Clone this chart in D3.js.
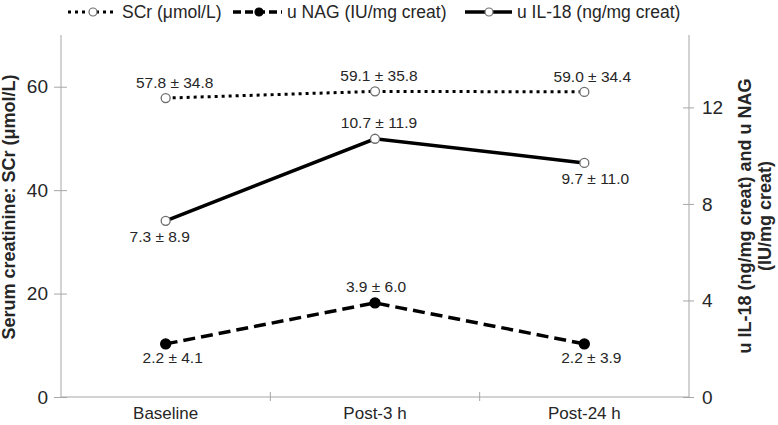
<!DOCTYPE html>
<html><head><meta charset="utf-8">
<script src="https://cdn.jsdelivr.net/npm/d3@7"></script>
<style>
html,body{margin:0;padding:0;background:#fff;}
svg{display:block;font-family:"Liberation Sans",Arial,sans-serif;}
</style></head>
<body>
<svg id="chart" width="778" height="425"></svg>
<script>
const categories = ["Baseline", "Post-3 h", "Post-24 h"];
const scrValues = [57.8, 59.1, 59.0];
const scrSD = [34.8, 35.8, 34.4];
const il18Values = [7.3, 10.7, 9.7];
const il18SD = [8.9, 11.9, 11.0];
const nagValues = [2.2, 3.9, 2.2];
const nagSD = [4.1, 6.0, 3.9];
const leftTicks = [0, 20, 40, 60];
const rightTicks = [0, 4, 8, 12];
const seriesNames = ["SCr (\u03bcmol/L)", "u NAG (IU/mg creat)", "u IL-18 (ng/mg creat)"];

// layout
const W = 778, H = 425;
const m = {left: 61, right: 89, top: 35, bottom: 28};
const iw = W - m.left - m.right, ih = H - m.top - m.bottom;
const svg = d3.select("#chart");
const g = svg.append("g").attr("transform", `translate(${m.left},${m.top})`);

const x = d3.scaleBand().domain(categories).range([0, iw]);
const yL = d3.scaleLinear().domain([0, 70]).range([ih, 0]);
const yR = d3.scaleLinear().domain([0, 15]).range([ih, 0]);
const cx = c => x(c) + x.bandwidth() / 2;

const axisColor = "#a6a6a6";
const textColor = "#262626";

// left axis
const la = g.append("g").call(d3.axisLeft(yL).tickValues(leftTicks).tickSize(0).tickPadding(13));
la.select(".domain").attr("stroke", axisColor).attr("d", `M0,0V${ih}`);
la.selectAll(".tick line").attr("stroke", axisColor).attr("x1", -7).attr("x2", 6);
la.selectAll(".tick text").attr("font-size", 19).attr("fill", textColor).attr("font-family", "Liberation Sans, Arial");

// right axis
const ra = g.append("g").attr("transform", `translate(${iw},0)`)
  .call(d3.axisRight(yR).tickValues(rightTicks).tickSize(0).tickPadding(13));
ra.select(".domain").attr("stroke", axisColor).attr("d", `M0,0V${ih}`);
ra.selectAll(".tick line").attr("stroke", axisColor).attr("x1", -6).attr("x2", 5);
ra.selectAll(".tick text").attr("font-size", 19).attr("fill", textColor).attr("font-family", "Liberation Sans, Arial");

// bottom axis
const ba = g.append("g").attr("transform", `translate(0,${ih})`)
  .call(d3.axisBottom(x).tickSize(0).tickPadding(10));
ba.select(".domain").attr("stroke", axisColor).attr("d", `M0,0H${iw}`);
ba.selectAll(".tick line").remove();
ba.selectAll(".tick text").attr("font-size", 17).attr("fill", textColor).attr("font-family", "Liberation Sans, Arial");
// category boundary ticks
g.append("g").selectAll("line").data(categories.slice(1)).join("line")
  .attr("x1", d => x(d)).attr("x2", d => x(d))
  .attr("y1", ih - 5).attr("y2", ih + 4)
  .attr("stroke", axisColor);

// axis titles
svg.append("text")
  .attr("transform", `translate(15,207) rotate(-90)`)
  .attr("text-anchor", "middle").attr("font-weight", "bold").attr("font-size", 18)
  .attr("fill", textColor).text("Serum creatinine: SCr (\u03bcmol/L)");
const rt = svg.append("text")
  .attr("transform", `translate(751,216) rotate(-90)`)
  .attr("text-anchor", "middle").attr("font-weight", "bold").attr("font-size", 18)
  .attr("fill", textColor);
rt.append("tspan").attr("x", 0).attr("y", 0).text("u IL-18 (ng/mg creat) and u NAG");
rt.append("tspan").attr("x", 0).attr("y", 20).text("(IU/mg creat)");

// series definitions (styles)
const series = [
  {vals: scrValues, sd: scrSD, y: yL, dash: "3,4", width: 3, marker: "open",
   dy: [-10, -10, -10], dx: [9, 4, 8]},
  {vals: nagValues, sd: nagSD, y: yR, dash: "12,6", width: 3.5, marker: "filled",
   dy: [19, -11, 19], dx: [7, 1, 7]},
  {vals: il18Values, sd: il18SD, y: yR, dash: null, width: 3.5, marker: "open",
   dy: [21, -11, 21], dx: [-6, 4, 11]}
];

const line = (s) => d3.line().x((d, i) => cx(categories[i])).y(d => s.y(d));

series.forEach(s => {
  g.append("path").datum(s.vals)
    .attr("d", line(s)).attr("fill", "none").attr("stroke", "#000")
    .attr("stroke-width", s.width).attr("stroke-dasharray", s.dash);
});
series.forEach(s => {
  g.append("g").selectAll("circle").data(s.vals).join("circle")
    .attr("cx", (d, i) => cx(categories[i])).attr("cy", d => s.y(d))
    .attr("r", s.marker === "filled" ? 5 : 4.5)
    .attr("fill", s.marker === "filled" ? "#000" : "#fff")
    .attr("stroke", s.marker === "filled" ? "#000" : "#6e6e6e")
    .attr("stroke-width", 1.3);
  g.append("g").selectAll("text").data(s.vals).join("text")
    .attr("x", (d, i) => cx(categories[i]) + s.dx[i])
    .attr("y", (d, i) => s.y(d) + s.dy[i])
    .attr("text-anchor", "middle").attr("font-size", 15.5).attr("fill", textColor)
    .text((d, i) => `${d.toFixed(1)} \u00b1 ${s.sd[i].toFixed(1)}`);
});

// legend
const legendItems = [
  {x0: 68, x1: 113, xc: 93, tx: 122, s: series[0]},
  {x0: 233, x1: 282, xc: 259, tx: 287, s: series[1]},
  {x0: 465, x1: 512, xc: 489, tx: 517, s: series[2]}
];
const lg = svg.append("g");
legendItems.forEach((it, i) => {
  const ly = 12;
  lg.append("line").attr("x1", it.x0).attr("x2", it.x1).attr("y1", ly).attr("y2", ly)
    .attr("stroke", "#000").attr("stroke-width", it.s.width)
    .attr("stroke-dasharray", it.s.dash ? (it.s.marker === "filled" ? "8,4" : it.s.dash) : null);
  lg.append("circle").attr("cx", it.xc).attr("cy", ly)
    .attr("r", 4).attr("fill", it.s.marker === "filled" ? "#000" : "#fff")
    .attr("stroke", it.s.marker === "filled" ? "#000" : "#6e6e6e").attr("stroke-width", 1.2);
  lg.append("text").attr("x", it.tx).attr("y", ly + 6).attr("font-size", 17.5)
    .attr("fill", textColor).text(seriesNames[i]);
});
</script>
</body></html>
